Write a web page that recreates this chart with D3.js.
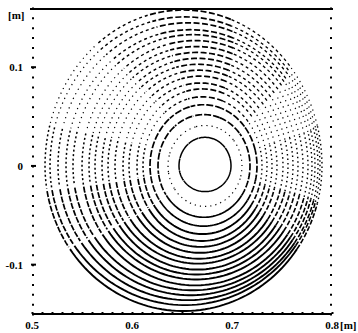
<!DOCTYPE html>
<html>
<head>
<meta charset="utf-8">
<script src="https://cdn.jsdelivr.net/npm/d3@7"></script>
<style>
  body { margin: 0; background: #fff; }
  text { font-family: "Liberation Serif", "DejaVu Serif", serif; font-weight: bold; }
</style>
</head>
<body>
<script>
// flux surface extents, inner ring first (metres)
const ringLeft = [0.647, 0.636, 0.626, 0.618, 0.611, 0.605, 0.597, 0.591, 0.583, 0.576,
  0.570, 0.563, 0.557, 0.550, 0.541, 0.534, 0.526, 0.518, 0.513];
const ringRight = [0.699, 0.710, 0.718, 0.725, 0.730, 0.735, 0.740, 0.745, 0.751, 0.756,
  0.761, 0.766, 0.771, 0.776, 0.780, 0.783, 0.786, 0.788, 0.790];
const ringTop = [0.029, 0.041, 0.052, 0.062, 0.070, 0.078, 0.084, 0.091, 0.097, 0.103,
  0.109, 0.115, 0.121, 0.127, 0.133, 0.138, 0.145, 0.151, 0.158];
const ringBottom = [-0.026, -0.041, -0.052, -0.061, -0.069, -0.076, -0.082, -0.088, -0.094, -0.099,
  -0.105, -0.110, -0.115, -0.121, -0.126, -0.131, -0.136, -0.141, -0.147];

const xTicks = [0.5, 0.6, 0.7, 0.8];
const xTickLabels = ["0.5", "0.6", "0.7", "0.8"];
const yTicks = [-0.1, 0, 0.1];
const yTickLabels = ["-0.1", "0", "0.1"];
const unitLabel = "[m]";

const width = 358;
const height = 333;
const margin = { top: 8, right: 26, bottom: 19, left: 32 };

const svg = d3
  .select("body")
  .append("svg")
  .attr("width", width)
  .attr("height", height);

svg.append("rect").attr("width", width).attr("height", height).attr("fill", "#fff");

const x = d3.scaleLinear().domain([0.5, 0.8]).range([margin.left, width - margin.right]);
const y = d3.scaleLinear().domain([-0.15, 0.16]).range([height - margin.bottom, margin.top]);

const rings = ringLeft.map((l, i) => ({
  cx: (l + ringRight[i]) / 2,
  a: (ringRight[i] - l) / 2,
  top: ringTop[i],
  bottom: ringBottom[i],
  index: i,
}));

// the surfaces are drawn from puncture points, so they look solid below
// and broken up on the sides and on top
const segments = [
  { from: 215, to: 325, dash: null, w: 1.9 },
  { from: 190, to: 215, dash: "6,1.5", w: 1.7 },
  { from: 325, to: 345, dash: "5,2", w: 1.6 },
  { from: 165, to: 190, dash: "2,2.5", w: 1.5 },
  { from: 345, to: 375, dash: "1.5,3", w: 1.4 },
  { from: 130, to: 165, dash: "1.2,4", w: 1.2 },
  { from: 105, to: 130, dash: "3,3", w: 1.4 },
  { from: 70, to: 105, dash: "6,2.5", w: 1.7 },
  { from: 40, to: 70, dash: "3,3", w: 1.3 },
  { from: 15, to: 40, dash: "1.2,4", w: 1.2 },
];

// inner surfaces are traced more evenly all the way round
const ringStyle = (r, seg) => {
  if (r.index === 0) return { w: 1.5, dash: null };
  if (r.index === 1) return { w: 1.2, dash: "1.2,4" };
  if (r.index < 4) return { w: 1.7, dash: seg.dash ? "7,2" : null };
  return { w: seg.w, dash: seg.dash };
};

const ringLine = d3
  .line()
  .x((p) => x(p[0]))
  .y((p) => y(p[1]));

const ringPoints = (r, from, to) => {
  const pts = [];
  for (let t = from; t <= to; t += 2) {
    const rad = (t * Math.PI) / 180;
    const s = Math.sin(rad);
    pts.push([r.cx + r.a * Math.cos(rad), s >= 0 ? r.top * s : -r.bottom * s]);
  }
  return pts;
};

const ringGroup = svg.append("g").attr("class", "rings");
rings.forEach((r) => {
  segments.forEach((seg) => {
    const st = ringStyle(r, seg);
    ringGroup
      .append("path")
      .attr("d", ringLine(ringPoints(r, seg.from, seg.to)))
      .attr("fill", "none")
      .attr("stroke", "#000")
      .attr("stroke-width", st.w)
      .attr("stroke-dasharray", st.dash);
  });
});

// frame: solid top and bottom, dotted sides
svg
  .append("line")
  .attr("x1", x(0.5) - 2)
  .attr("x2", x(0.8) + 1)
  .attr("y1", y(0.16) + 1)
  .attr("y2", y(0.16) + 1)
  .attr("stroke", "#000")
  .attr("stroke-width", 2.2);
svg
  .append("line")
  .attr("x1", x(0.5))
  .attr("x2", x(0.8))
  .attr("y1", y(-0.15))
  .attr("y2", y(-0.15))
  .attr("stroke", "#000")
  .attr("stroke-width", 1.8);

const minorY = d3.range(-0.15, 0.161, 0.01);
const minorX = d3.range(0.5, 0.801, 0.01);

const leftAxis = svg
  .append("g")
  .attr("transform", `translate(${x(0.5)},0)`)
  .call(d3.axisRight(y).tickValues(minorY).tickSize(2).tickFormat(""));
const rightAxis = svg
  .append("g")
  .attr("transform", `translate(${x(0.8)},0)`)
  .call(d3.axisLeft(y).tickValues(minorY).tickSize(2).tickFormat(""));
const bottomAxis = svg
  .append("g")
  .attr("transform", `translate(0,${y(-0.15)})`)
  .call(d3.axisTop(x).tickValues(minorX).tickSize(2).tickFormat(""));

[leftAxis, rightAxis, bottomAxis].forEach((g) => {
  g.select(".domain").remove();
  g.selectAll("line").attr("stroke", "#000").attr("stroke-width", 2);
});

// major labels
svg
  .append("g")
  .selectAll("text")
  .data(xTicks)
  .join("text")
  .attr("x", (d) => x(d))
  .attr("y", height - 4)
  .attr("text-anchor", "middle")
  .attr("font-size", 11)
  .text((d, i) => xTickLabels[i]);

svg
  .append("text")
  .attr("x", x(0.8) + 8)
  .attr("y", height - 4)
  .attr("font-size", 11)
  .text(unitLabel);

svg
  .append("g")
  .selectAll("text")
  .data(yTicks)
  .join("text")
  .attr("x", x(0.5) - 9)
  .attr("y", (d) => y(d) + 4)
  .attr("text-anchor", "end")
  .attr("font-size", 11)
  .text((d, i) => yTickLabels[i]);

svg
  .append("g")
  .selectAll("line")
  .data(yTicks)
  .join("line")
  .attr("x1", x(0.5) - 1)
  .attr("x2", x(0.5) + 4)
  .attr("y1", (d) => y(d))
  .attr("y2", (d) => y(d))
  .attr("stroke", "#000")
  .attr("stroke-width", 2);

svg
  .append("text")
  .attr("x", 8)
  .attr("y", 19)
  .attr("font-size", 11)
  .text(unitLabel);
</script>
</body>
</html>
